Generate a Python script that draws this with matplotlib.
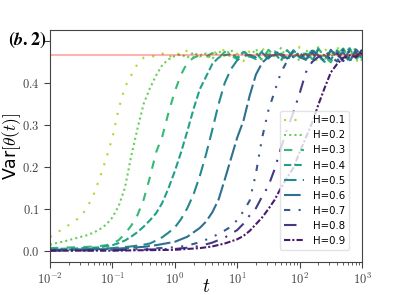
import numpy as np
import matplotlib
matplotlib.use("Agg")
import matplotlib.pyplot as plt
from matplotlib.ticker import FixedLocator, FuncFormatter, LogLocator

# ==== DATOS ====
H_labels = ["H=0.1", "H=0.2", "H=0.3", "H=0.4", "H=0.5", "H=0.6", "H=0.7", "H=0.8", "H=0.9"]
var_limit = 0.467

# tramo de subida: log10(t) y Var
rise_logt = [
    [-2.0, -1.9, -1.8, -1.7, -1.6, -1.5, -1.4, -1.3, -1.2, -1.1, -1.0, -0.9, -0.8, -0.7, -0.6, -0.5, -0.4],
    [-2.0, -1.9, -1.8, -1.7, -1.6, -1.5, -1.4, -1.3, -1.2, -1.1, -1.0, -0.9, -0.8, -0.7, -0.6, -0.5, -0.4,
     -0.3, -0.2, -0.1, 0.0],
    [-2.0, -1.8, -1.6, -1.4, -1.2, -1.1, -1.0, -0.9, -0.8, -0.7, -0.6, -0.5, -0.4, -0.3, -0.2, -0.1, 0.0,
     0.1, 0.2, 0.3, 0.4],
    [-2.0, -1.6, -1.2, -1.0, -0.9, -0.8, -0.7, -0.6, -0.5, -0.4, -0.3, -0.2, -0.1, 0.0, 0.1, 0.2, 0.3,
     0.4, 0.5, 0.6, 0.7, 0.8],
    [-2.0, -1.5, -1.0, -0.7, -0.5, -0.4, -0.3, -0.2, -0.1, 0.0, 0.1, 0.2, 0.3, 0.4, 0.5, 0.6, 0.7, 0.8,
     0.9, 1.0, 1.1, 1.2],
    [-2.0, -1.5, -1.0, -0.5, -0.3, 0.0, 0.2, 0.4, 0.5, 0.6, 0.7, 0.8, 0.9, 1.0, 1.1, 1.2, 1.3, 1.4,
     1.5, 1.6],
    [-2.0, -1.0, -0.5, 0.0, 0.2, 0.4, 0.6, 0.8, 0.9, 1.0, 1.1, 1.2, 1.3, 1.4, 1.5, 1.6, 1.7, 1.8, 1.9, 2.0],
    [-2.0, -1.0, 0.0, 0.2, 0.4, 0.6, 0.8, 1.0, 1.1, 1.2, 1.3, 1.4, 1.5, 1.6, 1.7, 1.8, 1.9, 2.0, 2.1,
     2.2, 2.3, 2.4],
    [-2.0, -1.0, 0.0, 0.4, 0.6, 0.8, 1.0, 1.1, 1.2, 1.3, 1.4, 1.5, 1.6, 1.7, 1.8, 1.9, 2.0, 2.1, 2.2,
     2.3, 2.4, 2.5, 2.6, 2.7, 2.8],
]
rise_var = [
    [0.033, 0.043, 0.052, 0.062, 0.072, 0.083, 0.105, 0.135, 0.175, 0.22, 0.27, 0.338, 0.39, 0.418,
     0.445, 0.46, 0.465],
    [0.015, 0.019, 0.022, 0.026, 0.030, 0.034, 0.038, 0.044, 0.052, 0.063, 0.08, 0.107, 0.15, 0.225,
     0.29, 0.35, 0.387, 0.418, 0.443, 0.456, 0.464],
    [0.007, 0.008, 0.009, 0.010, 0.012, 0.014, 0.018, 0.026, 0.041, 0.06, 0.085, 0.122, 0.175, 0.235,
     0.273, 0.33, 0.38, 0.42, 0.448, 0.46, 0.466],
    [0.005, 0.006, 0.009, 0.014, 0.019, 0.025, 0.034, 0.045, 0.058, 0.073, 0.09, 0.115, 0.15, 0.19,
     0.235, 0.285, 0.338, 0.385, 0.415, 0.445, 0.46, 0.466],
    [0.003, 0.004, 0.007, 0.011, 0.015, 0.018, 0.025, 0.033, 0.044, 0.056, 0.076, 0.102, 0.135, 0.178,
     0.23, 0.288, 0.349, 0.4, 0.433, 0.454, 0.464, 0.467],
    [0.002, 0.003, 0.005, 0.010, 0.014, 0.022, 0.034, 0.055, 0.07, 0.092, 0.122, 0.17, 0.22, 0.27,
     0.31, 0.37, 0.42, 0.448, 0.462, 0.467],
    [0.002, 0.003, 0.005, 0.009, 0.013, 0.021, 0.033, 0.049, 0.058, 0.074, 0.095, 0.12, 0.185, 0.27,
     0.335, 0.38, 0.425, 0.452, 0.464, 0.467],
    [0.001, 0.002, 0.005, 0.008, 0.012, 0.020, 0.032, 0.05, 0.065, 0.085, 0.102, 0.13, 0.155, 0.195,
     0.245, 0.29, 0.33, 0.375, 0.425, 0.45, 0.462, 0.467],
    [0.001, 0.001, 0.003, 0.007, 0.011, 0.018, 0.028, 0.036, 0.048, 0.064, 0.08, 0.1, 0.122, 0.15,
     0.175, 0.198, 0.235, 0.27, 0.305, 0.348, 0.388, 0.425, 0.445, 0.46, 0.466],
]

# meseta ruidosa: inicio en log10(t), pasos de 0.1 década
plateau_start = [-0.3, 0.1, 0.5, 0.9, 1.3, 1.7, 2.1, 2.5, 2.9]
plateau_var = [
    [0.462, 0.470, 0.458, 0.474, 0.465, 0.478, 0.460, 0.471, 0.455, 0.476, 0.468, 0.481, 0.459, 0.470,
     0.452, 0.477, 0.466, 0.484, 0.461, 0.473, 0.450, 0.479, 0.463, 0.486, 0.457, 0.471, 0.448, 0.482,
     0.465, 0.487, 0.454, 0.476, 0.446, 0.480],
    [0.468, 0.460, 0.473, 0.463, 0.470, 0.457, 0.476, 0.466, 0.479, 0.459, 0.472, 0.462, 0.481, 0.455,
     0.470, 0.464, 0.483, 0.458, 0.474, 0.452, 0.478, 0.467, 0.485, 0.456, 0.471, 0.449, 0.480, 0.462,
     0.484, 0.453],
    [0.463, 0.471, 0.459, 0.474, 0.466, 0.456, 0.477, 0.461, 0.472, 0.454, 0.479, 0.464, 0.470, 0.451,
     0.481, 0.460, 0.475, 0.457, 0.482, 0.463, 0.449, 0.478, 0.466, 0.483, 0.455, 0.472],
    [0.469, 0.460, 0.474, 0.463, 0.457, 0.476, 0.465, 0.471, 0.453, 0.478, 0.461, 0.473, 0.456, 0.480,
     0.464, 0.450, 0.477, 0.468, 0.482, 0.454, 0.471, 0.459],
    [0.461, 0.472, 0.458, 0.475, 0.466, 0.453, 0.478, 0.462, 0.470, 0.451, 0.480, 0.465, 0.456, 0.476,
     0.448, 0.481, 0.463, 0.470],
    [0.470, 0.458, 0.474, 0.462, 0.455, 0.477, 0.466, 0.452, 0.479, 0.460, 0.473, 0.449, 0.480, 0.464],
    [0.461, 0.472, 0.455, 0.476, 0.463, 0.451, 0.479, 0.458, 0.474, 0.447],
    [0.458, 0.471, 0.452, 0.476, 0.460, 0.479],
    [0.462, 0.472],
]

# ==== ESTILO ====
plt.rcParams['mathtext.fontset'] = 'cm'
plt.rcParams['font.family'] = ['DejaVu Sans']

linestyles = [(0, (1, 4)), (0, (1, 1.5)), (0, (4, 4)), (0, (3.5, 1.5)), (0, (6, 3)),
              (0, (8, 2)), (0, (3, 4, 1, 4, 1, 4)), (0, (6, 4, 1, 4)), (0, (3, 1, 1, 1))]
colors = plt.cm.viridis(np.linspace(0.87, 0.07, 9))

fig = plt.figure(figsize=(3.95, 2.95), dpi=100)
ax = fig.add_axes([0.1266, 0.1119, 0.7899, 0.7864])

for i in range(9):
    lt = np.array(rise_logt[i])
    lp = plateau_start[i] + 0.1 * np.arange(len(plateau_var[i]))
    logt = np.concatenate([lt, lp])
    v = np.concatenate([rise_var[i], plateau_var[i]])
    ax.plot(10.0 ** logt, v, color=colors[i], ls=linestyles[i], lw=1.5, label=H_labels[i])

ax.axhline(var_limit, color='red', alpha=0.3, lw=1.5, zorder=5)

ax.set_xscale('log')
ax.set_xlim(1e-2, 1e3)
ax.set_ylim(-0.026, 0.526)

ax.xaxis.set_major_locator(FixedLocator([1e-2, 1e-1, 1e0, 1e1, 1e2, 1e3]))
ax.xaxis.set_minor_locator(LogLocator(base=10, subs=np.arange(2, 10)))
ax.xaxis.set_major_formatter(FuncFormatter(lambda v, p: r'$10^{%d}$' % int(round(np.log10(v)))))
ax.yaxis.set_major_locator(FixedLocator([0.0, 0.1, 0.2, 0.3, 0.4, 0.5]))
ax.yaxis.set_major_formatter(FuncFormatter(lambda v, p: '' if v > 0.45 else r'$%.1f$' % v))

ax.tick_params(axis='both', which='major', labelsize=9, colors='#444444', length=4)
ax.tick_params(axis='x', which='minor', length=2, colors='#444444')
for s in ax.spines.values():
    s.set_color('#444444')

ax.set_xlabel(r'$t$', fontsize=14)
ax.xaxis.set_label_coords(0.5, -0.065)
ax.set_ylabel(r'Var$[\theta(t)]$', fontsize=12.5)
ax.yaxis.set_label_coords(-0.088, 0.5)

fig.text(0.02, 0.865, r'$\mathbf{(}\mathbfit{b}\mathbf{.2)}$', fontsize=13, va='center', ha='left',
         math_fontfamily='stix')

ax.legend(loc='lower right', bbox_to_anchor=(0.958, 0.052), borderaxespad=0, fontsize=7.3,
          framealpha=0.8, edgecolor='#dddddd', handlelength=2.0)

fig.savefig('out.png', dpi=100)
